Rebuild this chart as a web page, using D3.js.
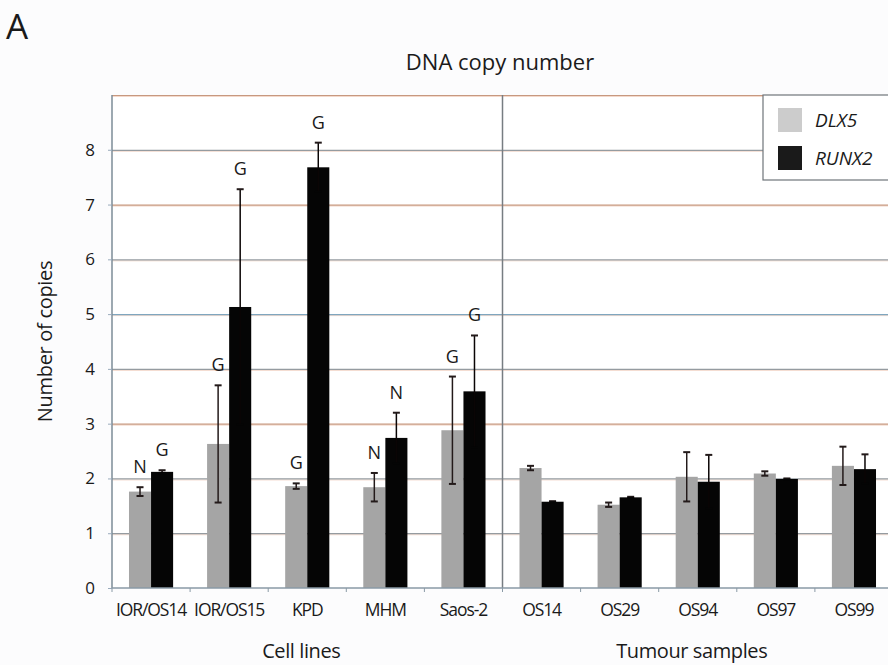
<!DOCTYPE html>
<html>
<head>
<meta charset="utf-8">
<script src="https://cdn.jsdelivr.net/npm/d3@7"></script>
<style>
  html, body { margin: 0; padding: 0; background: #fcfcfd; }
  svg { display: block; }
  text { font-family: "Open Sans", "Noto Sans", sans-serif; fill: #1a1a1a; }
</style>
</head>
<body>
<svg id="chart" width="888" height="665"></svg>
<script>
// Samples along the x axis
const samples = ["IOR/OS14", "IOR/OS15", "KPD", "MHM", "Saos-2", "OS14", "OS29", "OS94", "OS97", "OS99"];
const groups = [
  { name: "Cell lines", from: 0, to: 4 },
  { name: "Tumour samples", from: 5, to: 9 }
];
const seriesNames = ["DLX5", "RUNX2"];

// Mean copy number and error per sample
const dlx5 = [1.76, 2.63, 1.86, 1.84, 2.88, 2.19, 1.52, 2.03, 2.09, 2.23];
const dlx5Err = [0.08, 1.07, 0.05, 0.26, 0.98, 0.04, 0.04, 0.45, 0.04, 0.35];
const runx2 = [2.12, 5.13, 7.68, 2.74, 3.59, 1.575, 1.655, 1.94, 1.99, 2.17];
const runx2Err = [0.03, 2.15, 0.45, 0.46, 1.02, 0.01, 0.01, 0.49, 0.01, 0.27];

// Call annotations (N = normal, G = gain); empty for tumour samples
const dlx5Call = ["N", "G", "G", "N", "G", "", "", "", "", ""];
const runx2Call = ["G", "G", "G", "N", "G", "", "", "", "", ""];

const yTicks = [0, 1, 2, 3, 4, 5, 6, 7, 8];
const yMax = 9;

const svg = d3.select("#chart");
const m = { left: 112, right: -5, top: 95, bottom: 77 };
const W = 888, H = 665;

const x = d3.scaleBand().domain(samples).range([m.left, W - m.right]).paddingInner(0).paddingOuter(0);
const inner = d3.scaleBand().domain(seriesNames).range([0, x.bandwidth()]).paddingInner(0).paddingOuter(0.77);
const y = d3.scaleLinear().domain([0, yMax]).range([H - m.bottom, m.top]);

const colors = { DLX5: "#a5a5a5", RUNX2: "#050505" };

// Panel letter and title
svg.append("text").attr("x", 6).attr("y", 39).style("font-size", "35px").text("A");
svg.append("text").attr("x", 500).attr("y", 70).attr("text-anchor", "middle").style("font-size", "22px").text("DNA copy number");

// Plot background
svg.append("rect").attr("x", m.left).attr("y", m.top).attr("width", W - m.left).attr("height", y(0) - m.top).attr("fill", "#ffffff");

// Horizontal grid lines (with a faint warm fringe)
const gridVals = d3.range(1, yMax + 1);
const gridColor = v => (v === 9 || v === 7 || v === 3) ? "#c7987f" : (v === 5 ? "#7fa6bf" : "#959ba0");
svg.append("g").selectAll("line.fr").data(gridVals).join("line")
  .attr("x1", m.left).attr("x2", W)
  .attr("y1", d => y(d) + 1.5).attr("y2", d => y(d) + 1.5)
  .attr("stroke", "#f3d9cc").attr("stroke-width", 1);
svg.append("g").selectAll("line.gr").data(gridVals).join("line")
  .attr("x1", m.left).attr("x2", W)
  .attr("y1", d => y(d) + 0.5).attr("y2", d => y(d) + 0.5)
  .attr("stroke", gridColor).attr("stroke-width", 1.2);

// Group divider
const divX = x(samples[groups[1].from]);
svg.append("line").attr("x1", divX).attr("x2", divX).attr("y1", m.top).attr("y2", y(0))
  .attr("stroke", "#777d82").attr("stroke-width", 1.5);

// Bars
const rows = samples.map((s, i) => ({
  sample: s,
  vals: [
    { key: "DLX5", v: dlx5[i], e: dlx5Err[i], call: dlx5Call[i] },
    { key: "RUNX2", v: runx2[i], e: runx2Err[i], call: runx2Call[i] }
  ]
}));

const g = svg.append("g").selectAll("g").data(rows).join("g")
  .attr("transform", d => `translate(${x(d.sample)},0)`);

g.selectAll("rect").data(d => d.vals).join("rect")
  .attr("x", d => inner(d.key))
  .attr("width", inner.bandwidth())
  .attr("y", d => y(d.v))
  .attr("height", d => y(0) - y(d.v))
  .attr("fill", d => colors[d.key]);

// Error bars
const cx = d => inner(d.key) + inner.bandwidth() / 2;
const eb = g.selectAll("g.err").data(d => d.vals).join("g").attr("class", "err");
eb.append("line")
  .attr("x1", cx).attr("x2", cx)
  .attr("y1", d => y(d.v - d.e)).attr("y2", d => y(d.v + d.e))
  .attr("stroke", d => d.key === "RUNX2" ? "#0a0505" : "#231a1a").attr("stroke-width", 1.5);
eb.append("line")
  .attr("x1", d => cx(d) - 3.5).attr("x2", d => cx(d) + 3.5)
  .attr("y1", d => y(d.v + d.e)).attr("y2", d => y(d.v + d.e))
  .attr("stroke", "#231a1a").attr("stroke-width", 2);
eb.append("line")
  .attr("x1", d => cx(d) - 3.5).attr("x2", d => cx(d) + 3.5)
  .attr("y1", d => y(d.v - d.e)).attr("y2", d => y(d.v - d.e))
  .attr("stroke", d => d.key === "RUNX2" ? "#050505" : "#231a1a").attr("stroke-width", 2);

// Call labels above error bars
g.selectAll("text.call").data(d => d.vals.filter(v => v.call)).join("text")
  .attr("class", "call")
  .attr("x", cx)
  .attr("y", d => y(d.v + d.e) - 14)
  .attr("text-anchor", "middle")
  .style("font-size", "18px")
  .text(d => d.call);

// Y axis
const yAxis = svg.append("g").attr("transform", `translate(${m.left},0)`)
  .call(d3.axisLeft(y).tickValues(yTicks).tickFormat(d3.format("d")).tickSize(4).tickPadding(13));
yAxis.select(".domain").attr("stroke", "#7d8c97").attr("stroke-width", 1.5).attr("d", `M0,${m.top}V${y(0)}`);
yAxis.selectAll(".tick line").attr("stroke", "#9ab").attr("x1", -4).attr("x2", 0);
yAxis.selectAll(".tick text").style("font-size", "17px").attr("fill", "#1a1a1a").style("font-family", "Open Sans, sans-serif");

// X axis
const xAxis = svg.append("g").attr("transform", `translate(0,${y(0)})`)
  .call(d3.axisBottom(x).tickSize(0).tickPadding(16));
xAxis.select(".domain").attr("stroke", "#8a9aa6").attr("stroke-width", 1.5).attr("d", `M${m.left},0H${W}`);
xAxis.selectAll(".tick text").style("font-size", "17.5px").attr("fill", "#1a1a1a").style("font-family", "Open Sans, sans-serif").style("letter-spacing", "-1.1px");
// Band boundary tick marks
svg.append("g").selectAll("line").data(samples).join("line")
  .attr("x1", d => x(d)).attr("x2", d => x(d))
  .attr("y1", y(0)).attr("y2", y(0) + 4)
  .attr("stroke", "#8a9aa6").attr("stroke-width", 1);

// Group labels
svg.append("g").selectAll("text").data(groups).join("text")
  .attr("x", d => (x(samples[d.from]) + x(samples[d.to]) + x.bandwidth()) / 2 - 6)
  .attr("y", 658)
  .attr("text-anchor", "middle")
  .style("font-size", "20px")
  .style("letter-spacing", "-0.4px")
  .text(d => d.name);

// Y axis title
svg.append("text")
  .attr("transform", `translate(52,${(m.top + y(0)) / 2}) rotate(-90)`)
  .attr("text-anchor", "middle")
  .style("font-size", "20px")
  .style("letter-spacing", "-0.3px")
  .text("Number of copies");

// Legend
const lg = svg.append("g").attr("transform", "translate(763,95)");
lg.append("rect").attr("x", 0).attr("y", 0).attr("width", 140).attr("height", 85)
  .attr("fill", "#ffffff").attr("stroke", "#6f757a").attr("stroke-width", 1.2);
const legendFill = { DLX5: "#cccccc", RUNX2: "#1a1a1a" };
seriesNames.forEach((s, i) => {
  lg.append("rect").attr("x", 15).attr("y", 13 + i * 38).attr("width", 24).attr("height", 24).attr("fill", legendFill[s]);
  lg.append("text").attr("x", 52).attr("y", 32 + i * 38).style("font-size", "19px").style("font-style", "italic").text(s);
});
</script>
</body>
</html>
